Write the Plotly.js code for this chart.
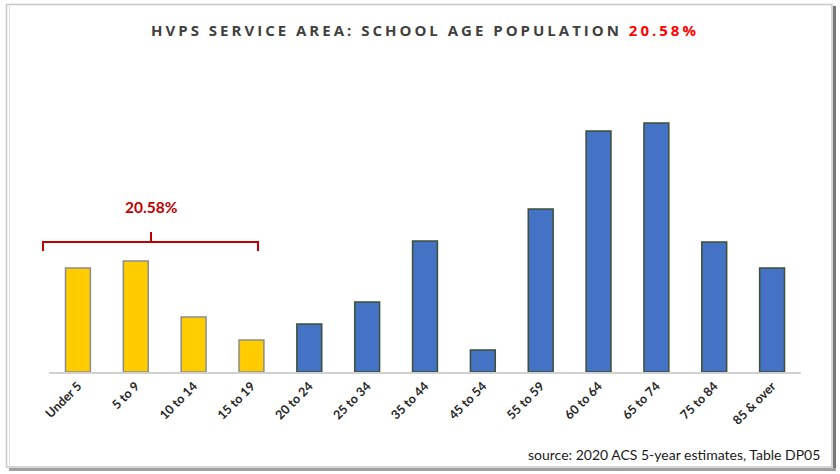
<!DOCTYPE html>
<html>
<head>
<meta charset="utf-8">
<script src="https://cdn.plot.ly/plotly-3.0.1.min.js"></script>
<style>
html,body{margin:0;padding:0;background:#fff;}
#chart{width:840px;height:474px;}
</style>
</head>
<body>
<div id="chart"></div>
<script>
// Age groups and estimated population (relative units)
const ageGroups = ["Under 5","5 to 9","10 to 14","15 to 19","20 to 24","25 to 34","35 to 44","45 to 54","55 to 59","60 to 64","65 to 74","75 to 84","85 & over"];
const population = [104,111,55,32,48,70,131,22,163,241,249,130,104];
const schoolAgeGroups = ["Under 5","5 to 9","10 to 14","15 to 19"];
const schoolAgeShare = "20.58%";
const sourceNote = "source: 2020 ACS 5-year estimates, Table DP05";

const W = 840, H = 474;
const M = {l:49, r:39, t:100, b:102};
const pw = W - M.l - M.r, ph = H - M.t - M.b;
const px = x => (x - M.l) / pw;          // pixel -> paper x
const py = y => 1 - (y - M.t) / ph;      // pixel -> paper y

const isSchool = ageGroups.map(g => schoolAgeGroups.includes(g));
const fill = isSchool.map(s => s ? "#FFCC00" : "#4472C4");
const edge = isSchool.map(s => s ? "#8c8c8c" : "#3d4f35");

const trace = {
  type: "bar",
  x: ageGroups,
  y: population,
  width: 0.43,
  marker: {color: fill, line: {color: edge, width: 1.5}},
  hoverinfo: "x+y"
};

const red = "#C00000";
const layout = {
  width: W, height: H,
  margin: M,
  paper_bgcolor: "#ffffff",
  plot_bgcolor: "#ffffff",
  showlegend: false,
  font: {family: "Lato, 'Open Sans', sans-serif", color: "#262626"},
  title: {
    text: 'HVPS SERVICE AREA: SCHOOL AGE POPULATION <span style="color:#FF0000">' + schoolAgeShare + '</span>',
    font: {family: "'Open Sans', sans-serif", size: 15, color: "#404040", weight: "bold"},
    x: 0.5, xref: "paper", xanchor: "center",
    y: 1 - 31 / H, yref: "container", yanchor: "middle"
  },
  xaxis: {
    type: "category",
    showline: true, linecolor: "#d0d0d0", linewidth: 2,
    showgrid: false, zeroline: false, ticks: "",
    tickangle: -45,
    tickfont: {family: "Lato, sans-serif", size: 12.5, color: "#262626", weight: "bold"},
    range: [-0.5, ageGroups.length - 0.5],
    fixedrange: true
  },
  yaxis: {
    range: [0, 272], visible: false, showgrid: false, zeroline: false, fixedrange: true
  },
  shapes: [
    // outer frame
    {type: "rect", xref: "paper", yref: "paper", x0: px(6.5), x1: px(832), y0: py(4.5), y1: py(467),
     line: {color: "#c8c8c8", width: 1.5}, fillcolor: "rgba(0,0,0,0)", layer: "below"},
    {type: "line", xref: "paper", yref: "paper", x0: px(9.5), x1: px(9.5), y0: py(6), y1: py(466),
     line: {color: "#dedede", width: 1}},
    {type: "line", xref: "paper", yref: "paper", x0: px(834.5), x1: px(834.5), y0: py(6), y1: py(470),
     line: {color: "#777777", width: 3}},
    {type: "line", xref: "paper", yref: "paper", x0: px(9), x1: px(836), y0: py(469.5), y1: py(469.5),
     line: {color: "#a0a0a0", width: 3}},
    // bracket over school-age bars
    {type: "path", xref: "paper", yref: "paper",
     path: "M " + px(43) + "," + py(251) + " L " + px(43) + "," + py(242) +
           " L " + px(258) + "," + py(242) + " L " + px(258) + "," + py(251),
     line: {color: red, width: 2}},
    {type: "line", xref: "paper", yref: "paper", x0: px(151), x1: px(151), y0: py(242), y1: py(232),
     line: {color: red, width: 2}}
  ],
  annotations: [
    {text: "<b>" + schoolAgeShare + "</b>", xref: "paper", yref: "paper", x: px(151), y: py(207),
     xanchor: "center", yanchor: "middle", showarrow: false,
     font: {family: "Lato, sans-serif", size: 15.5, color: red}},
    {text: sourceNote, xref: "paper", yref: "paper", x: px(822), y: py(454),
     xanchor: "right", yanchor: "middle", showarrow: false,
     font: {family: "Lato, sans-serif", size: 14, color: "#1a1a1a"}}
  ]
};

Plotly.newPlot("chart", [trace], layout, {displayModeBar: false, responsive: false}).then(() => {
  document.querySelectorAll(".gtitle").forEach(t => t.style.letterSpacing = "3px");
});
</script>
</body>
</html>
